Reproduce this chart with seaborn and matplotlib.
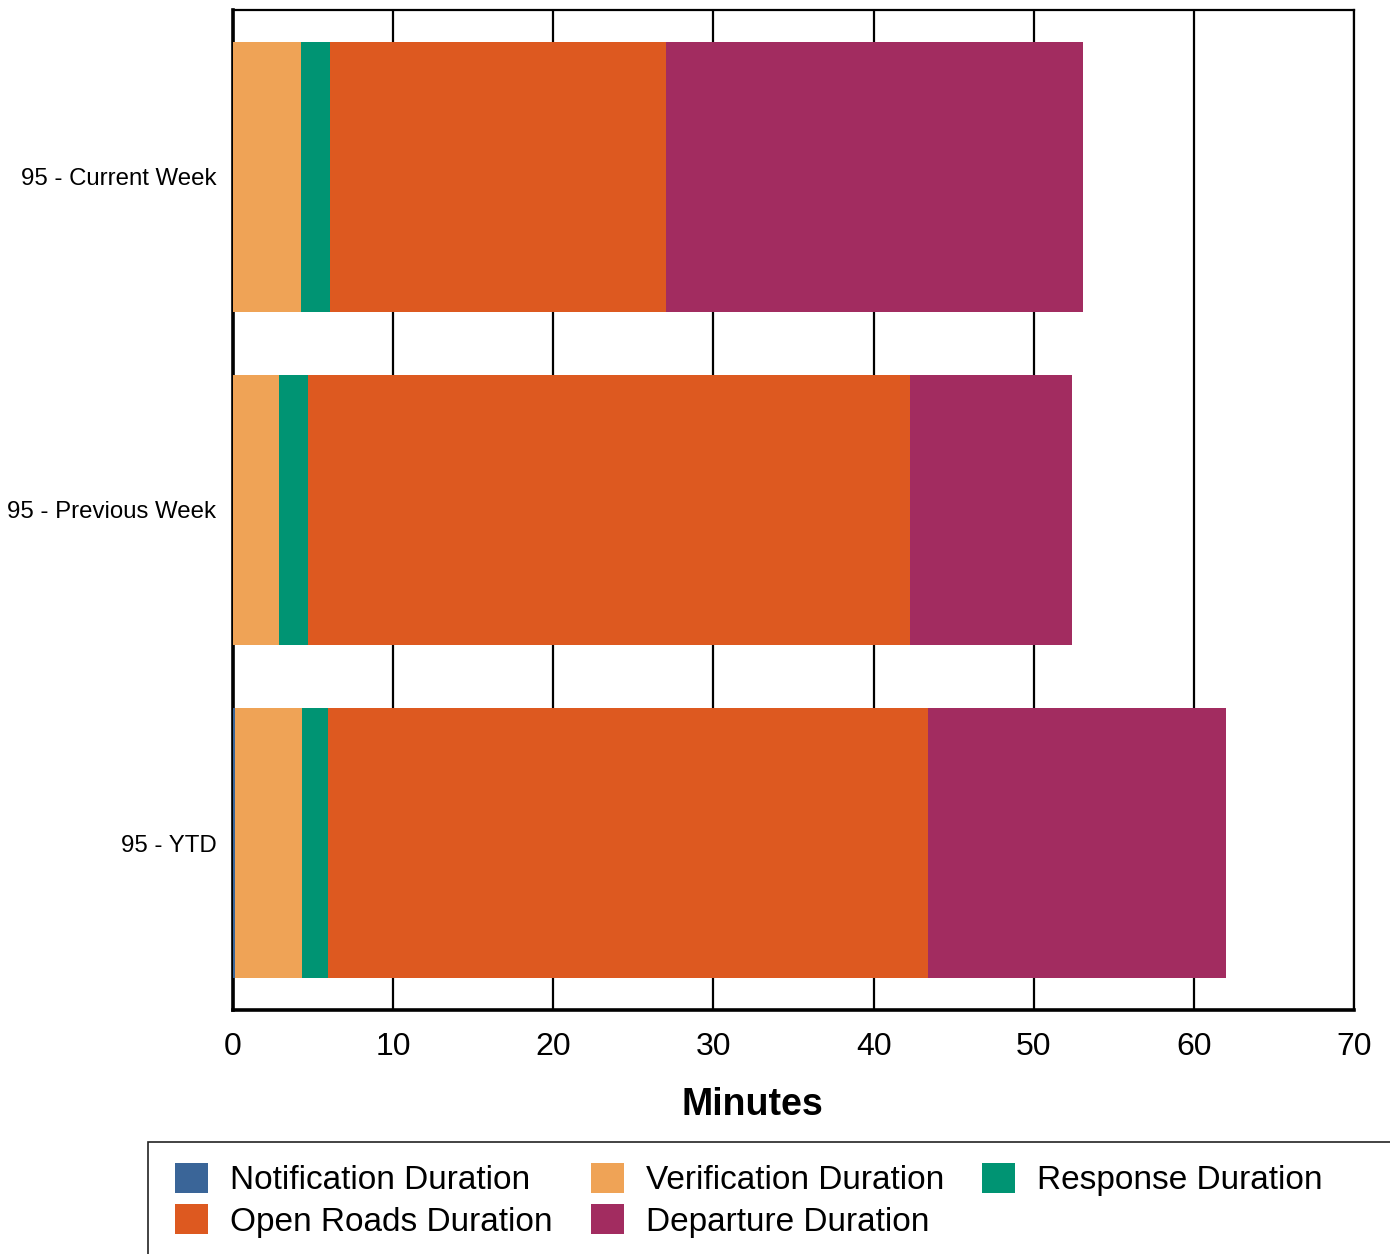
import matplotlib
matplotlib.use("Agg")
import matplotlib.pyplot as plt
import seaborn as sns
import pandas as pd
from matplotlib.patches import Patch, Rectangle

# values (minutes)
categories = ["95 - Current Week", "95 - Previous Week", "95 - YTD"]
notification = [0.0, 0.0, 0.14]
verification = [4.25, 2.87, 4.17]
response = [1.81, 1.80, 1.62]
open_roads = [20.99, 37.62, 37.48]
departure = [26.04, 10.11, 18.61]

segments = ["Notification Duration", "Verification Duration", "Response Duration",
            "Open Roads Duration", "Departure Duration"]
colors = ["#3a6598", "#efa356", "#009473", "#dd5920", "#a22c60"]

sns.set_style("white")
plt.rcParams["font.family"] = ["Liberation Sans", "DejaVu Sans"]
plt.rcParams["text.color"] = "black"
plt.rcParams["axes.labelcolor"] = "black"
plt.rcParams["xtick.color"] = "black"
plt.rcParams["ytick.color"] = "black"

df = pd.DataFrame({"category": categories,
                   segments[0]: notification,
                   segments[1]: verification,
                   segments[2]: response,
                   segments[3]: open_roads,
                   segments[4]: departure})
# cumulative sums so each layer covers the one under it
cum = df[segments].cumsum(axis=1)
cum["category"] = df["category"]

W, H = 1390, 1254
fig = plt.figure(figsize=(W / 100, H / 100), dpi=100)
ax = fig.add_axes([233 / W, 1 - 1010 / H, 1121 / W, 1000 / H])

# draw longest first, then overlay shorter cumulative totals
for seg, col in reversed(list(zip(segments, colors))):
    sns.barplot(data=cum, x=seg, y="category", color=col, width=0.81,
                linewidth=0, saturation=1, ax=ax, orient="h")

ax.set_xlim(0, 70)
ax.set_xticks(range(0, 71, 10))
ax.set_ylim(2.5, -0.5)
ax.set_axisbelow(True)
ax.grid(axis="x", color="black", linewidth=1.6)
ax.grid(axis="y", visible=False)
ax.tick_params(axis="x", length=0, labelsize=23, pad=16)
ax.tick_params(axis="y", length=0, labelsize=17.3, pad=12)
ax.set_ylabel("")
ax.set_xlabel("Minutes", fontsize=27, fontweight="bold")
ax.xaxis.set_label_coords(0.463, -0.077)

for side in ["left", "bottom"]:
    ax.spines[side].set_linewidth(2.6)
    ax.spines[side].set_color("black")
for side in ["top", "right"]:
    ax.spines[side].set_linewidth(1.6)
    ax.spines[side].set_color("black")
ax.spines["left"].set_zorder(0.6)

# legend is filled row by row in the reference
order = [0, 3, 1, 4, 2]
handles = [Patch(facecolor=colors[i], edgecolor="none", label=segments[i]) for i in order]
leg = fig.legend(handles=handles, loc="upper left",
                 bbox_to_anchor=(148 / W, 1 - 1136 / H),
                 ncol=3, fontsize=24, frameon=False,
                 handlelength=1.0, handleheight=1.0, handletextpad=0.65,
                 columnspacing=1.15, labelspacing=0.25, borderpad=0.8,
                 borderaxespad=0)
# legend box runs off the right edge of the picture
fig.patches.append(Rectangle((148 / W, -0.05), 1.0, 1 - 1142 / H + 0.05,
                             transform=fig.transFigure, fill=False,
                             edgecolor="#222222", linewidth=1.2))

fig.savefig("out.png", dpi=100)
